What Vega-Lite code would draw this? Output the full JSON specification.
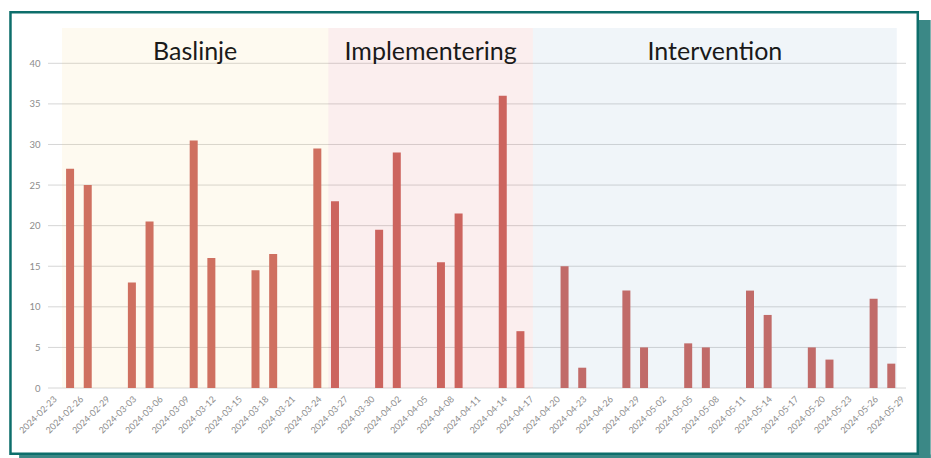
{
  "$schema": "https://vega.github.io/schema/vega-lite/v6.json",
  "width": 858,
  "height": 360,
  "autosize": {"type": "none"},
  "padding": {"left": 48, "top": 28, "right": 25, "bottom": 70},
  "background": "white",
  "config": {
    "view": {"stroke": null},
    "axis": {"labelFont": "Lato", "labelColor": "#8c8c8c", "grid": false, "ticks": false, "domain": false, "tickSize": 0, "title": null},
    "axisX": {"labels": false},
    "axisY": {"labelFontSize": 9.5, "labelPadding": 8}
  },
  "datasets": {
    "bars": [
      {"date": "2024-02-25", "value": 27},
      {"date": "2024-02-27", "value": 25},
      {"date": "2024-03-03", "value": 13},
      {"date": "2024-03-05", "value": 20.5},
      {"date": "2024-03-10", "value": 30.5},
      {"date": "2024-03-12", "value": 16},
      {"date": "2024-03-17", "value": 14.5},
      {"date": "2024-03-19", "value": 16.5},
      {"date": "2024-03-24", "value": 29.5},
      {"date": "2024-03-26", "value": 23},
      {"date": "2024-03-31", "value": 19.5},
      {"date": "2024-04-02", "value": 29},
      {"date": "2024-04-07", "value": 15.5},
      {"date": "2024-04-09", "value": 21.5},
      {"date": "2024-04-14", "value": 36},
      {"date": "2024-04-16", "value": 7},
      {"date": "2024-04-21", "value": 15},
      {"date": "2024-04-23", "value": 2.5},
      {"date": "2024-04-28", "value": 12},
      {"date": "2024-04-30", "value": 5},
      {"date": "2024-05-05", "value": 5.5},
      {"date": "2024-05-07", "value": 5},
      {"date": "2024-05-12", "value": 12},
      {"date": "2024-05-14", "value": 9},
      {"date": "2024-05-19", "value": 5},
      {"date": "2024-05-21", "value": 3.5},
      {"date": "2024-05-26", "value": 11},
      {"date": "2024-05-28", "value": 3}
    ],
    "phases": [
      {"phase": "Baslinje", "start": "2024-02-24T02:00:00", "end": "2024-03-25T06:00:00", "mid": "2024-03-10T04:00:00"},
      {"phase": "Implementering", "start": "2024-03-25T06:00:00", "end": "2024-04-17T10:00:00", "mid": "2024-04-05T20:00:00"},
      {"phase": "Intervention", "start": "2024-04-17T10:00:00", "end": "2024-05-28T15:00:00", "mid": "2024-05-08T00:30:00"}
    ],
    "grid": [{"v": 0}, {"v": 5}, {"v": 10}, {"v": 15}, {"v": 20}, {"v": 25}, {"v": 30}, {"v": 35}, {"v": 40}],
    "ticks": [
      {"t": "2024-02-23"}, {"t": "2024-02-26"}, {"t": "2024-02-29"}, {"t": "2024-03-03"}, {"t": "2024-03-06"},
      {"t": "2024-03-09"}, {"t": "2024-03-12"}, {"t": "2024-03-15"}, {"t": "2024-03-18"}, {"t": "2024-03-21"},
      {"t": "2024-03-24"}, {"t": "2024-03-27"}, {"t": "2024-03-30"}, {"t": "2024-04-02"}, {"t": "2024-04-05"},
      {"t": "2024-04-08"}, {"t": "2024-04-11"}, {"t": "2024-04-14"}, {"t": "2024-04-17"}, {"t": "2024-04-20"},
      {"t": "2024-04-23"}, {"t": "2024-04-26"}, {"t": "2024-04-29"}, {"t": "2024-05-02"}, {"t": "2024-05-05"},
      {"t": "2024-05-08"}, {"t": "2024-05-11"}, {"t": "2024-05-14"}, {"t": "2024-05-17"}, {"t": "2024-05-20"},
      {"t": "2024-05-23"}, {"t": "2024-05-26"}, {"t": "2024-05-29"}
    ]
  },
  "layer": [
    {
      "data": {"values": [{}]},
      "mark": {"type": "rect", "fill": "#3b8886"},
      "encoding": {
        "x": {"datum": {"year": 2024, "month": 5, "date": 31, "hours": 3}, "type": "temporal", "axis": {"title": null},
              "scale": {"domain": [{"year": 2024, "month": 2, "date": 22, "hours": 12}, {"year": 2024, "month": 5, "date": 29, "hours": 16}], "nice": false, "padding": 0}},
        "x2": {"datum": {"year": 2024, "month": 6, "date": 1, "hours": 11}},
        "y": {"datum": 45.34, "type": "quantitative", "axis": {"title": null}, "scale": {"domain": [0, 44.35], "nice": false, "zero": false, "padding": 0}},
        "y2": {"datum": -8.62}
      }
    },
    {
      "data": {"values": [{}]},
      "mark": {"type": "rect", "fill": "#3b8886"},
      "encoding": {
        "x": {"datum": {"year": 2024, "month": 2, "date": 19, "hours": 5, "minutes": 30}, "type": "temporal", "axis": {"title": null},
              "scale": {"domain": [{"year": 2024, "month": 2, "date": 22, "hours": 12}, {"year": 2024, "month": 5, "date": 29, "hours": 16}], "nice": false, "padding": 0}},
        "x2": {"datum": {"year": 2024, "month": 6, "date": 1, "hours": 11}},
        "y": {"datum": -8.2, "type": "quantitative", "axis": {"title": null}, "scale": {"domain": [0, 44.35], "nice": false, "zero": false, "padding": 0}},
        "y2": {"datum": -8.62}
      }
    },
    {
      "data": {"values": [{}]},
      "mark": {"type": "rect", "fill": "transparent", "stroke": "#0d6e6b", "strokeWidth": 2.5},
      "encoding": {
        "x": {"datum": {"year": 2024, "month": 2, "date": 18, "hours": 6}, "type": "temporal", "axis": {"title": null},
              "scale": {"domain": [{"year": 2024, "month": 2, "date": 22, "hours": 12}, {"year": 2024, "month": 5, "date": 29, "hours": 16}], "nice": false, "padding": 0}},
        "x2": {"datum": {"year": 2024, "month": 5, "date": 31, "hours": 0}},
        "y": {"datum": 46.29, "type": "quantitative", "axis": {"title": null}, "scale": {"domain": [0, 44.35], "nice": false, "zero": false, "padding": 0}},
        "y2": {"datum": -8.1}
      }
    },
    {
      "data": {"name": "grid"},
      "mark": {"type": "rule", "stroke": "#d6d6d6", "strokeWidth": 1},
      "encoding": {
        "y": {"field": "v", "type": "quantitative", "scale": {"domain": [0, 44.35], "nice": false, "zero": false, "padding": 0},
              "axis": {"values": [0, 5, 10, 15, 20, 25, 30, 35, 40], "title": null}}
      }
    },
    {
      "data": {"name": "bars", "format": {"parse": {"date": "date:'%Y-%m-%d'"}}},
      "mark": {"type": "bar", "size": 8, "color": "#cb665f"},
      "encoding": {
        "x": {"field": "date", "type": "temporal", "axis": {"title": null},
              "scale": {"domain": [{"year": 2024, "month": 2, "date": 22, "hours": 12}, {"year": 2024, "month": 5, "date": 29, "hours": 16}], "nice": false, "padding": 0}},
        "y": {"field": "value", "type": "quantitative", "axis": {"title": null}, "scale": {"domain": [0, 44.35], "nice": false, "zero": false, "padding": 0}}
      }
    },
    {
      "data": {"name": "phases", "format": {"parse": {"start": "date", "end": "date", "mid": "date"}}},
      "mark": {"type": "rect", "opacity": 0.1},
      "encoding": {
        "x": {"field": "start", "type": "temporal", "axis": {"title": null},
              "scale": {"domain": [{"year": 2024, "month": 2, "date": 22, "hours": 12}, {"year": 2024, "month": 5, "date": 29, "hours": 16}], "nice": false, "padding": 0}},
        "x2": {"field": "end"},
        "y": {"datum": 0, "type": "quantitative", "axis": {"title": null}, "scale": {"domain": [0, 44.35], "nice": false, "zero": false, "padding": 0}},
        "y2": {"datum": 44.35},
        "color": {"field": "phase", "type": "nominal", "legend": null,
                  "scale": {"domain": ["Baslinje", "Implementering", "Intervention"], "range": ["#f5cd69", "#d75555", "#699bc3"]}}
      }
    },
    {
      "data": {"name": "phases", "format": {"parse": {"start": "date", "end": "date", "mid": "date"}}},
      "mark": {"type": "text", "font": "Lato", "fontSize": 25, "color": "#1a1a1a", "align": "center", "baseline": "alphabetic"},
      "encoding": {
        "x": {"field": "mid", "type": "temporal", "axis": {"title": null},
              "scale": {"domain": [{"year": 2024, "month": 2, "date": 22, "hours": 12}, {"year": 2024, "month": 5, "date": 29, "hours": 16}], "nice": false, "padding": 0}},
        "y": {"datum": 40.45, "type": "quantitative", "axis": {"title": null}, "scale": {"domain": [0, 44.35], "nice": false, "zero": false, "padding": 0}},
        "text": {"field": "phase"}
      }
    },
    {
      "data": {"name": "ticks", "format": {"parse": {"t": "date:'%Y-%m-%d'"}}},
      "mark": {"type": "text", "font": "Lato", "fontSize": 9, "color": "#8c8c8c", "angle": -45, "align": "right", "baseline": "top"},
      "encoding": {
        "x": {"field": "t", "type": "temporal", "axis": {"title": null},
              "scale": {"domain": [{"year": 2024, "month": 2, "date": 22, "hours": 12}, {"year": 2024, "month": 5, "date": 29, "hours": 16}], "nice": false, "padding": 0}},
        "y": {"datum": -0.85, "type": "quantitative", "axis": {"title": null}, "scale": {"domain": [0, 44.35], "nice": false, "zero": false, "padding": 0}},
        "text": {"field": "t", "type": "temporal", "format": "%Y-%m-%d"}
      }
    }
  ]
}
